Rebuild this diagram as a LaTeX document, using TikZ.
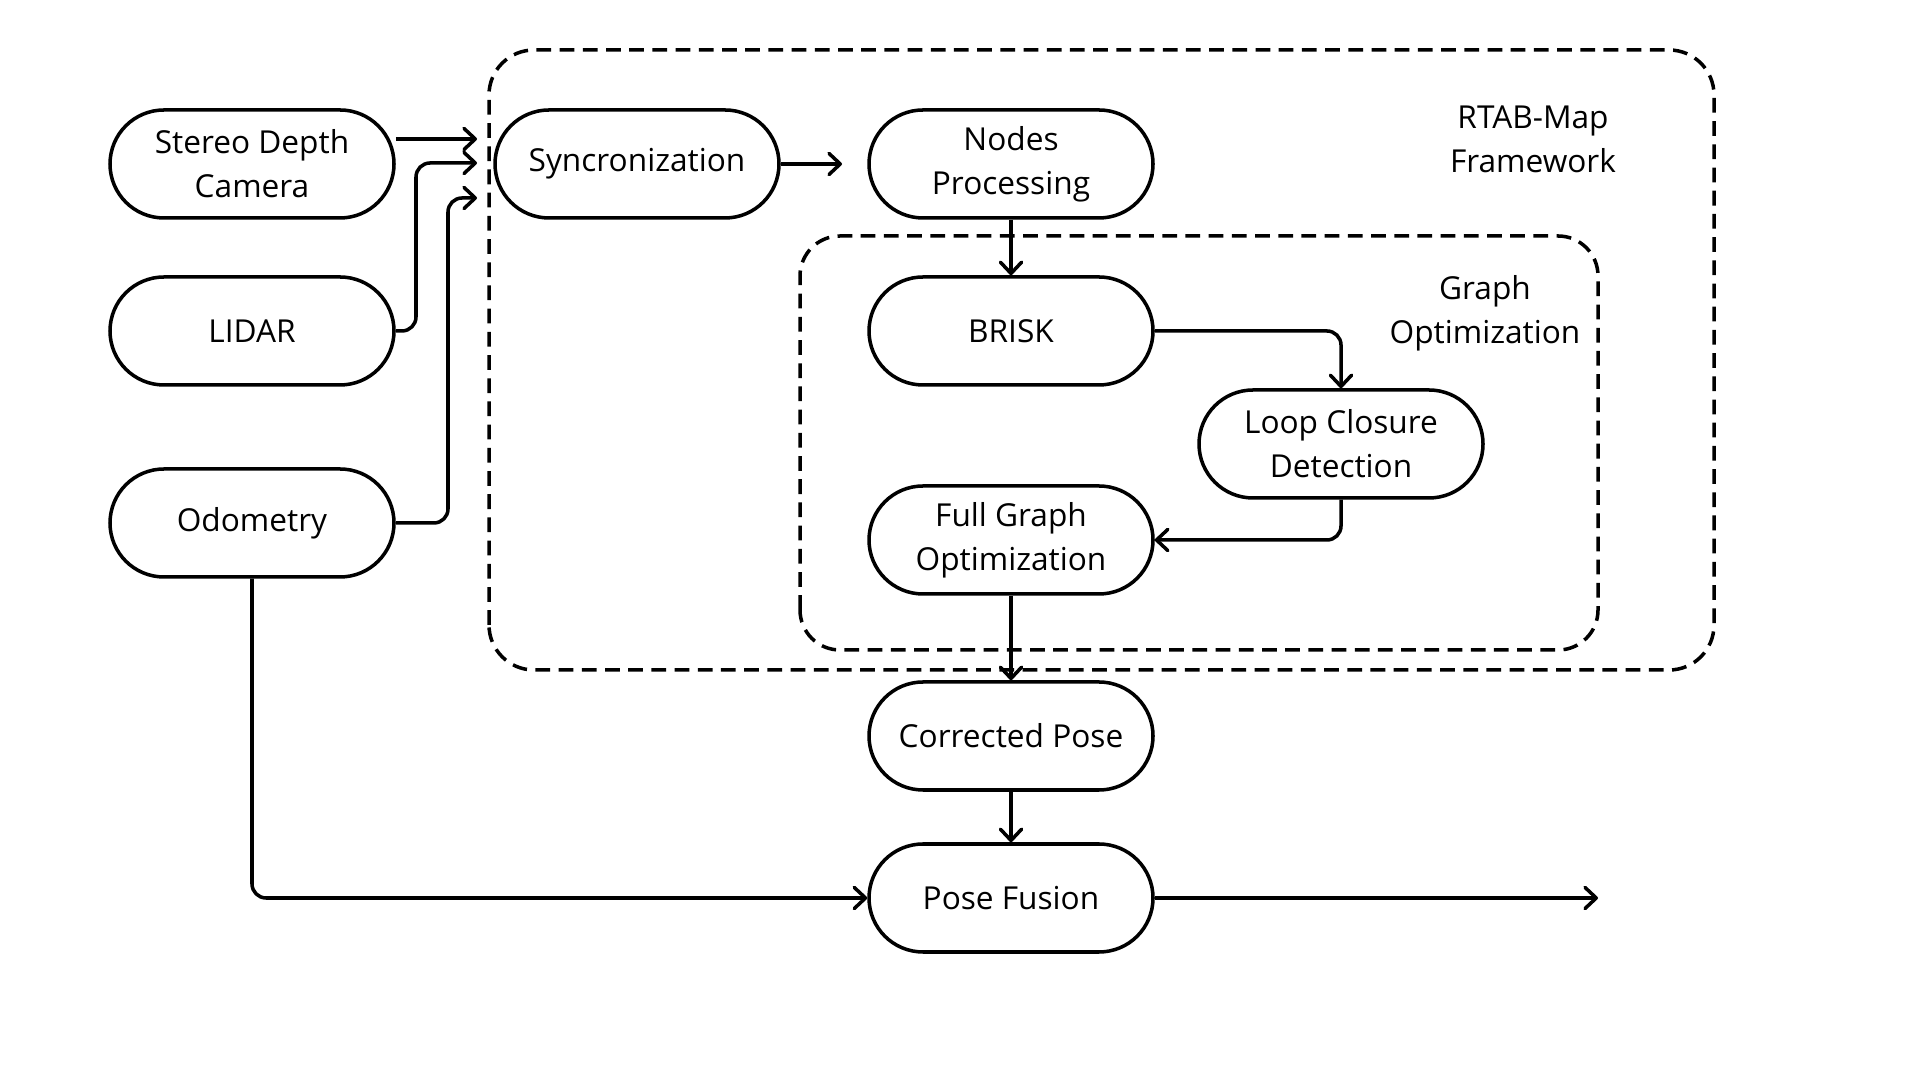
\documentclass[tikz,border=0pt]{standalone}
\usepackage{fontspec}
\setmainfont{Open Sans}
\usetikzlibrary{arrows.meta}

\begin{document}
\begin{tikzpicture}[>={Straight Barb[round,length=3.2pt,width=6pt]},
  block/.style={draw, line width=1pt, rounded corners=0.54cm,
    minimum width=2.84cm, minimum height=1.08cm, align=center,
    font=\fontsize{9}{12.5}\selectfont},
  flow/.style={->, line width=1pt, rounded corners=4pt},
  frame/.style={line width=1pt, dash pattern=on 4.2pt off 2.4pt, rounded corners=0.45cm},
  tag/.style={align=center, font=\fontsize{9}{12.5}\selectfont}]
  \useasboundingbox (0,0) rectangle (19.2,10.8);

  % Frames
  \draw[frame] (4.89,4.10) rectangle (17.14,10.30);
  \draw[frame, rounded corners=0.4cm] (8.00,4.30) rectangle (15.98,8.44);
  \node[tag] (rtab) at (15.33,9.41) {RTAB-Map\\Framework};
  \node[tag] (gopt) at (14.85,7.67) {Graph\\Optimization};

  % Sensors
  \node[block] (stereo) at (2.52,9.16) {Stereo Depth\\Camera};
  \node[block] (lidar) at (2.52,7.49) {LIDAR};
  \node[block] (odom) at (2.52,5.57) {Odometry};

  % Pipeline
  \node[block] (sync) at (6.37,9.16) {Syncronization};
  \node[block] (nodes) at (10.11,9.16) {Nodes\\Processing};
  \node[block] (brisk) at (10.11,7.49) {BRISK};
  \node[block] (loop) at (13.41,6.36) {Loop Closure\\Detection};
  \node[block] (fullg) at (10.11,5.40) {Full Graph\\Optimization};
  \node[block] (corr) at (10.11,3.44) {Corrected Pose};
  \node[block] (fusion) at (10.11,1.82) {Pose Fusion};

  % Free ends
  \coordinate (inA) at (4.77,9.41);
  \coordinate (inB) at (4.77,9.17);
  \coordinate (inC) at (4.77,8.82);
  \coordinate (syncOut) at (8.42,9.16);
  \coordinate (out) at (15.98,1.82);

  % Connectors
  \draw[flow] (stereo.east |- inA) -- (inA);
  \draw[flow] (lidar.east) -- (4.16,7.49) |- (inB);
  \draw[flow] (odom.east) -- (4.48,5.57) |- (inC);
  \draw[flow] (sync.east) -- (syncOut);
  \draw[flow] (nodes) -- (brisk);
  \draw[flow] (brisk.east) -| (loop.north);
  \draw[flow] (loop.south) |- (fullg.east);
  \draw[flow] (fullg) -- (corr);
  \draw[flow] (corr) -- (fusion);
  \draw[flow] (odom.south) |- (fusion.west);
  \draw[flow] (fusion.east) -- (out);
\end{tikzpicture}
\end{document}
